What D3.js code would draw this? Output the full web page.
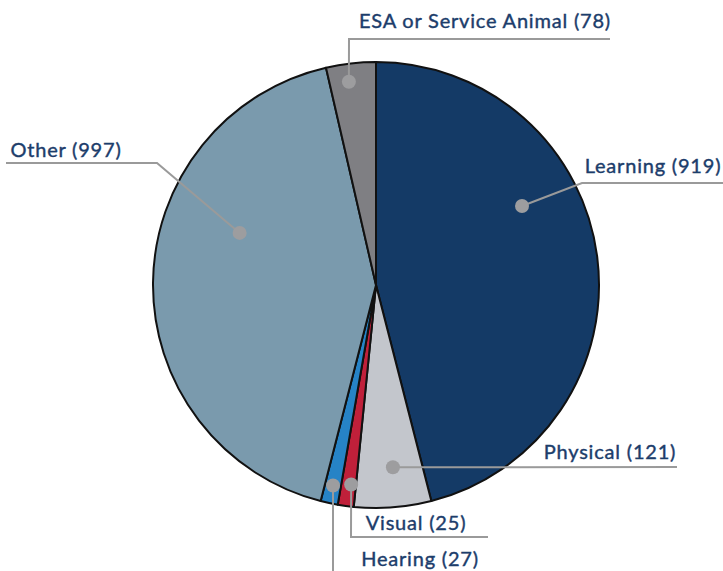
<!DOCTYPE html>
<html>
<head>
<meta charset="utf-8">
<script src="https://cdn.jsdelivr.net/npm/d3@7"></script>
<style>
  body { margin: 0; background: #fff; }
  svg { display: block; }
</style>
</head>
<body>
<svg class="main-chart" width="723" height="571"></svg>
<script>
// categories, clockwise from 12 o'clock
var categories = ["Learning", "Physical", "Visual", "Hearing", "Other", "ESA or Service Animal"];
// counts printed in the labels
var labelCounts = [919, 121, 25, 27, 997, 78];
// slice sizes as drawn in the picture (the navy and light-blue slices look swapped vs. their labels)
var sliceValues = [997, 121, 25, 27, 919, 78];
var sliceColors = ["#143a66", "#c3c6cc", "#c0203a", "#2683c6", "#7a9aad", "#7f7f83"];

var cx = 376, cy = 285, radius = 223;

// label layout: dot angle (deg, clockwise from top), dot distance, bend points, text anchor position
var labelLayout = [
  { ang: 61.6, dist: 166, path: [[582, 183], [723, 183]], tx: 653, ty: 173 },
  { ang: 174.7, dist: 183, path: [[677, 467]], tx: 610, ty: 459 },
  { ang: 187.1, dist: 201, path: [[351, 537], [488, 537]], tx: 416, ty: 530 },
  { ang: 192.1, dist: 205, path: [[333, 571]], tx: 420, ty: 566 },
  { ang: 290.9, dist: 146, path: [[157, 163], [6, 163]], tx: 66, ty: 157 },
  { ang: 352.4, dist: 205, path: [[349, 39], [610, 39]], tx: 485, ty: 28 }
];

var svg = d3.select("svg.main-chart");

var pie = d3.pie().sort(null).value(function(d) { return d; });
var arc = d3.arc().innerRadius(0).outerRadius(radius);
var arcs = pie(sliceValues);

var g = svg.append("g").attr("transform", "translate(" + cx + "," + cy + ")");

g.selectAll("path.slice")
  .data(arcs)
  .enter()
  .append("path")
  .attr("class", "slice")
  .attr("d", arc)
  .style("fill", function(d, i) { return sliceColors[i]; })
  .style("stroke", "#111")
  .style("stroke-width", 2)
  .style("stroke-linejoin", "round");

function dotPos(i) {
  var a = labelLayout[i].ang * Math.PI / 180;
  return [cx + labelLayout[i].dist * Math.sin(a), cy - labelLayout[i].dist * Math.cos(a)];
}

// leader lines
svg.selectAll("polyline.leader")
  .data(categories)
  .enter()
  .append("polyline")
  .attr("class", "leader")
  .attr("points", function(d, i) {
    return [dotPos(i)].concat(labelLayout[i].path).map(function(p) { return p.join(","); }).join(" ");
  })
  .style("fill", "none")
  .style("stroke", "#9a9a9a")
  .style("stroke-width", 2);

svg.selectAll("circle.dot")
  .data(categories)
  .enter()
  .append("circle")
  .attr("class", "dot")
  .attr("r", 7)
  .attr("cx", function(d, i) { return dotPos(i)[0]; })
  .attr("cy", function(d, i) { return dotPos(i)[1]; })
  .style("fill", "#9d9d9f");

svg.selectAll("text.label")
  .data(categories)
  .enter()
  .append("text")
  .attr("class", "label")
  .attr("x", function(d, i) { return labelLayout[i].tx; })
  .attr("y", function(d, i) { return labelLayout[i].ty; })
  .attr("text-anchor", "middle")
  .attr("font-family", "Lato, sans-serif")
  .attr("font-size", "20px")
  .attr("letter-spacing", "0.8px")
  .attr("fill", "#1c3d6b")
  .style("stroke", "#1c3d6b")
  .style("stroke-width", 0.4)
  .text(function(d, i) { return d + " (" + labelCounts[i] + ")"; });
</script>
</body>
</html>
